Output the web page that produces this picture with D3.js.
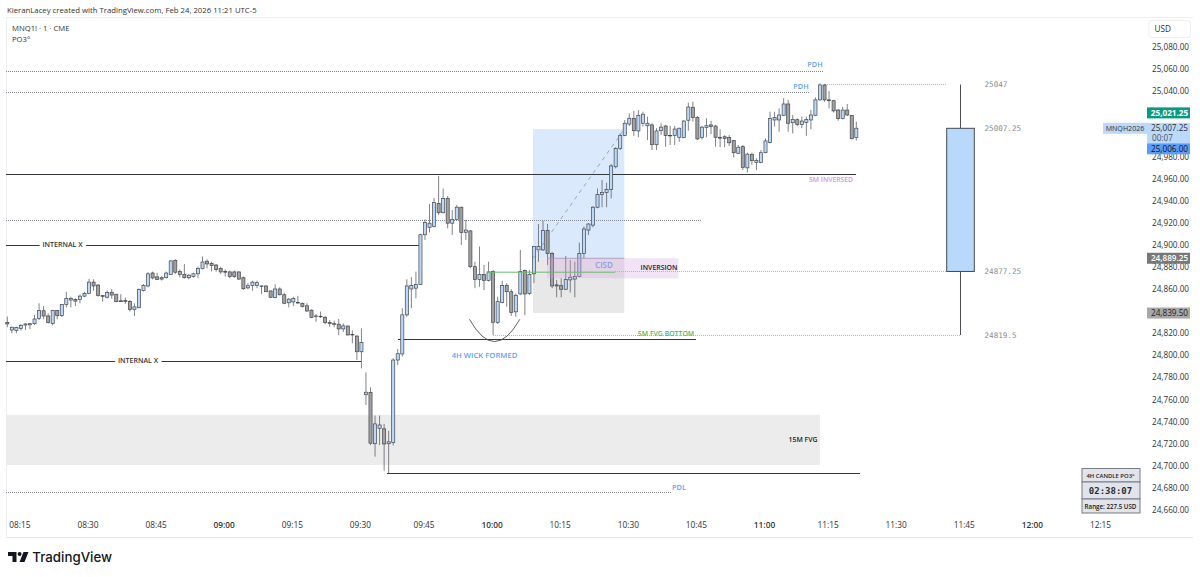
<!DOCTYPE html>
<html>
<head>
<meta charset="utf-8">
<title>MNQ1! 1m</title>
<script src="https://cdn.jsdelivr.net/npm/d3@7"></script>
<style>
  html, body { margin: 0; padding: 0; background: #fff; }
  svg { display: block; }
  text { font-family: "Open Sans", "Noto Sans", sans-serif; }
</style>
</head>
<body>
<div id="chart"></div>
<script>
// Bars, one minute each, starting just before 08:15
var barOpen = [24829.75,24823,24822.5,24824.5,24827.5,24827.75,24828.75,24833.5,24840.5,24835.75,24829,24840.75,24836.25,24846.25,24850.25,24850.75,24850.75,24853.75,24856.25,24866.5,24863.75,24854.25,24852.75,24857.25,24855.5,24849.5,24849.75,24849,24841.5,24843.25,24858.75,24863,24874.75,24871.25,24870.5,24870.5,24873.5,24886.25,24876.25,24873.5,24870.5,24871.5,24874,24878.75,24885.5,24883.5,24882,24878.75,24876,24875.75,24875.75,24875.75,24870.5,24861.25,
  24863.5,24863.5,24863,24863,24858.5,24852.5,24860.25,24855,24847.75,24848.5,24848,24847.25,24845,24841,24835.75,24835.5,24834.5,24829.75,24828.75,24828.25,24824,24826.5,24819,24817.5,24803.25,24764.25,24766.25,24719.75,24733.75,24733.25,24719.75,24720.75,24795.75,24801.25,24836.75,24860.25,24861,24864.25,24909.5,24916.25,24917,24938,
  24929.5,24942.5,24920,24923.5,24934.5,24911.75,24913,24880.5,24868.75,24873.5,24868,24876,24829.75,24848,24863.5,24857.75,24839.5,24855.75,24877,24856.25,24874,24895.75,24895.75,24913.5,24892.5,24864,24863.25,24860,24868.5,24869.25,24871.5,24892.5,24913.75,24918.25,24934.5,24946,24948,24950.75,24971.25,24987.75,24999.75,25010,25015.25,25003.75,
  25010.75,25008.5,25009.25,24991.25,25004,25008.25,24999.75,24999.5,24998,24997.75,25013.5,25025.25,25016,24997.75,25007,25009.25,25008.25,24998,24998.5,24997.75,24995,24983.5,24989.5,24970.25,24982.5,24975.25,24975.25,24984,24993.25,25013.75,25013.75,25018,25028.25,25011.25,25014,25009.75,25011.5,25013.75,25018,25032,25045.5,25032,25031.25,25022.75,25015,25022.75,25017.75,24997.75];
var barHigh = [24835.25,24826,24826,24828.5,24829,24829.5,24836.75,24847.25,24844.75,24838.25,24841.25,24841.25,24846.5,24857.75,24853.25,24851.75,24855.25,24857.5,24869.5,24869,24864.75,24854.75,24858.75,24860,24855.75,24855.5,24852.5,24850.25,24847.25,24860.75,24864.75,24875.5,24876,24875,24872,24876,24886.5,24887.25,24878,24883,24874,24875,24880.5,24889.75,24887.25,24885,24883,24880.5,24878,24877,24877,24876.25,24871.5,24865.5,
  24867.75,24867.75,24863.5,24863.5,24858.75,24864.5,24861.75,24857,24852,24853.25,24854,24848,24847.25,24841.75,24837.5,24839.75,24835.75,24832,24831.5,24833,24829,24827.5,24822.5,24818.25,24824.5,24784.5,24771,24745.25,24745.25,24737.75,24731.5,24797.25,24805.75,24842.75,24869,24871,24876,24910.25,24923.5,24937.5,24942.75,24963,
  24951.5,24944.75,24932,24936.5,24935,24923,24913.75,24885,24898.75,24882,24885,24877.5,24853.25,24867.75,24865.5,24860,24856.25,24895.75,24878,24877.5,24899.25,24919.25,24922.25,24919.25,24894,24868.5,24870,24890.25,24886.5,24885,24902.25,24917,24920,24935.5,24951.5,24959.25,24956.75,24973.75,24989,25001.5,25013.75,25019.75,25022,25022.75,
  25021.25,25016.75,25010.75,25006.25,25010.75,25009.25,25008.5,25008.25,25006.75,25013.75,25029.5,25030.25,25017.25,25008.25,25015.25,25013,25009.25,25005.25,25000,25000,24995.5,24991,24991,24984,24984,24979,24986.5,24997,25021.25,25021.25,25024.25,25033.5,25032,25018.25,25015.25,25016.75,25016.75,25022.75,25034.25,25047,25046.5,25040,25032,25023.5,25025.75,25028.25,25018.25,25012.25];
var barLow = [24825.5,24820,24820,24822.5,24823,24823.75,24827.5,24832,24832.75,24829,24827.25,24832.75,24835,24843.5,24843.5,24844.75,24847.25,24852.75,24855.75,24858.75,24853.25,24848.75,24851.75,24851.5,24848.25,24848.5,24846.75,24839.75,24835.75,24842.75,24858,24861.75,24869,24868.5,24868,24869.75,24873,24873.75,24870.75,24869.75,24869,24870.5,24870.25,24878,24879,24876.25,24876,24874,24871.5,24870,24870.25,24868.5,24859.5,24860,
  24858.75,24861,24855.75,24857.5,24852,24852,24854.5,24846.5,24843.5,24844.75,24847,24843.5,24839.5,24833.75,24830.5,24834,24828.25,24826,24825.5,24818.25,24821.25,24818,24811,24795.75,24788.25,24755,24718.5,24708,24718.5,24695.25,24692.75,24718.25,24791.25,24798.75,24835,24842.75,24851.75,24864,24904.75,24911.5,24916.25,24927.5,
  24929,24915.25,24909.25,24923,24900.25,24904.75,24879,24861,24862.25,24859.25,24867,24818.5,24828.5,24847.25,24844.25,24835.75,24835,24854.75,24836.5,24854.75,24865.5,24885,24894.75,24882,24861,24852.75,24852.75,24859.25,24857,24852.75,24871,24888,24909.25,24916.25,24933.5,24934.5,24934.5,24942.5,24969.75,24986.5,24999,25008.25,24999.25,24998,
  25007.75,24995.5,24986.5,24986.5,25000,24989.5,24991,24991,24994,24997,25004,25012.25,24995.5,24996,24998,25001,24989.5,24989,24989,24990,24979.75,24982.75,24968.25,24966,24973,24968.25,24974.5,24983.5,24992.5,25007.75,25003,25017.25,25003,25001.5,25008.25,25006.25,24999.25,25005.25,25017.25,25031.25,25030.25,25024.25,25020.5,25013,25014.25,25017.25,24996,24995];
var barClose = [24828.5,24825.5,24825.25,24827.25,24828.5,24828.75,24833,24840.75,24835.75,24829.75,24840.75,24836,24846.25,24851.75,24851.75,24849.25,24853.75,24856.25,24866.5,24863,24854.5,24853.5,24857,24854.75,24848.75,24848.75,24849,24841.5,24844,24859.75,24863.5,24874,24870.25,24869,24869.25,24874.75,24885.75,24875.5,24873.5,24870.5,24872.75,24874,24878.75,24884.75,24883,24881.5,24878,24875.75,24875.5,24871.5,24871.5,24869.25,24860.5,24863.25,
  24866.5,24866,24862.5,24857.75,24852.75,24860.25,24855,24847.25,24851,24851.75,24847.5,24844.25,24840.25,24834.5,24835.25,24835,24829.75,24829,24828.25,24824,24826.75,24818.5,24818.5,24803.25,24811.75,24766.5,24720.25,24737.75,24736.75,24719.5,24721.5,24795.75,24801.5,24836.75,24863,24863.5,24864.25,24909.5,24920.75,24920,24938.75,24929.5,
  24942.5,24920,24923.5,24934.5,24911.5,24913.75,24880.5,24869,24873.5,24868,24875.75,24830,24848.75,24863.5,24857.75,24839,24854.5,24876.25,24855.75,24873.5,24898.75,24898.75,24913.5,24892.5,24863,24863,24860,24869,24871,24871.5,24892.5,24914.75,24919.25,24934.5,24946,24948,24950.75,24972,24987.75,24999.75,25010.75,25015.25,25004,25017.75,
  25019,25010.75,24991.25,25003.75,25007.25,24999.5,24999.25,25005.5,25006.25,25012.75,25025.5,25016,24996.5,25007.25,25008.5,25007.75,24998,24997.25,24997,24993,24984,24989,24970.75,24982.75,24976.75,24977,24984,24994.75,25015,25016,25018.25,25028.25,25010.75,25014.25,25009.75,25012.75,25014.25,25018.25,25032,25045.5,25032,25031.25,25022,25015,25022.75,25018.25,24996.75,25006.25];

var priceTicks = [25080,25060,25040,24980,24960,24940,24920,24900,24880,24860,24820,24800,24780,24760,24740,24720,24700,24680,24660];
var timeBars = [3,18,33,48,63,78,92,107,122,137,152,167,181,196,211,226,241];
var timeLabels = ["08:15","08:30","08:45","09:00","09:15","09:30","09:45","10:00","10:15","10:30","10:45","11:00","11:15","11:30","11:45","12:00","12:15"];
var boldTimes = ["09:00","10:00","11:00","12:00"];

// PO3 side candle, from its own labels
var po3Values = [25047,25007.25,24877.25,24819.5];
var po3Labels = ["25047","25007.25","24877.25","24819.5"];

// Price scale tags
var tagPrices = [25021.25,25007.25,24889.25,24839.5];

// Levels drawn on the chart: price, first bar, last bar
var solidLevels = [[24964.25,-0.3,187],[24899.5,-0.3,90.9],[24794.75,-0.3,77.9],[24814.25,86,151.7],[24692.25,83.6,187.8]];
var dottedLevels = [[25057.5,-0.3,179.7],[25039,-0.3,176.8],[24922.5,-0.3,153],[24675.5,-0.3,146.4]];
var po3Dotted = [[25047,180.1,207],[24877.25,133.9,207],[24819.5,107,209.9]];

var width = 1200, height = 577;

var svg = d3.select("#chart").append("svg").attr("width", width).attr("height", height);
svg.append("rect").attr("width", width).attr("height", height).attr("fill", "#fff");

var x = d3.scaleLinear().domain([0, 187]).range([7.3, 856.3]);
var y = d3.scaleLinear().domain([25080, 24660]).range([47, 509.5]);
// the labelled prices sit a touch lower than the axis text
function yTag(p) { return y(p) + 1.2; }

function addText(str, px, py, size, color, anchor, weight, family) {
    var t = svg.append("text")
        .attr("x", px).attr("y", py)
        .attr("dy", "0.35em")
        .attr("font-size", size)
        .attr("fill", color)
        .attr("text-anchor", anchor || "start")
        .text(str);
    if (weight) t.attr("font-weight", weight);
    if (family) t.style("font-family", family);
    return t;
}

function drawFrame() {
    svg.append("line").attr("x1", 6).attr("x2", 1193).attr("y1", 17.5).attr("y2", 17.5).attr("stroke", "#eceef1");
    svg.append("line").attr("x1", 6).attr("x2", 1193).attr("y1", 537.5).attr("y2", 537.5).attr("stroke", "#e6e8eb");
    svg.append("line").attr("x1", 6.5).attr("x2", 6.5).attr("y1", 17).attr("y2", 537).attr("stroke", "#eceef1");

    addText("KieranLacey created with TradingView.com, Feb 24, 2026 11:21 UTC-5", 7, 10, 7.75, "#333");
    addText("MNQ1! · 1 · CME", 12, 28, 7.7, "#333");
    addText("PO3°", 12, 39, 7.7, "#333");
}

function drawZones() {
    // 15M FVG
    zone(-0.3, 179, 24747, 24701.5, "#ececec");
    // position tool, profit part then stop part
    zone(115.8, 135.9, 25006.5, 24889.25, "#dbe9fd");
    zone(115.8, 135.9, 24889.25, 24839.5, "#e8e8e8");
}

function zone(b0, b1, top, bottom, fill) {
    svg.append("rect")
        .attr("x", x(b0)).attr("width", x(b1) - x(b0))
        .attr("y", yTag(top)).attr("height", yTag(bottom) - yTag(top))
        .attr("fill", fill);
}

function drawLevels() {
    svg.selectAll(".solid").data(solidLevels).join("line")
        .attr("class", "solid")
        .attr("x1", d => x(d[1])).attr("x2", d => x(d[2]))
        .attr("y1", d => y(d[0])).attr("y2", d => y(d[0]))
        .attr("stroke", "#33363c").attr("stroke-width", 1)
        .attr("shape-rendering", "crispEdges");

    svg.selectAll(".dotted").data(dottedLevels).join("line")
        .attr("class", "dotted")
        .attr("x1", d => x(d[1])).attr("x2", d => x(d[2]))
        .attr("y1", d => y(d[0])).attr("y2", d => y(d[0]))
        .attr("stroke", "#85888e").attr("stroke-width", 1).attr("stroke-dasharray", "1 1")
        .attr("shape-rendering", "crispEdges");

    svg.selectAll(".po3dot").data(po3Dotted).join("line")
        .attr("class", "po3dot")
        .attr("x1", d => x(d[1])).attr("x2", d => x(d[2]))
        .attr("y1", d => yTag(d[0])).attr("y2", d => yTag(d[0]))
        .attr("stroke", "#b4b6ba").attr("stroke-width", 1).attr("stroke-dasharray", "1 1")
        .attr("shape-rendering", "crispEdges");
}

function drawCandles() {
    var bars = d3.range(barOpen.length);
    var g = svg.append("g");
    var bodyW = 3.1;

    g.selectAll(".wick").data(bars).join("line")
        .attr("class", "wick")
        .attr("x1", i => x(i)).attr("x2", i => x(i))
        .attr("y1", i => y(barHigh[i])).attr("y2", i => y(barLow[i]))
        .attr("stroke", "#55585e").attr("stroke-width", 0.75);

    g.selectAll(".body").data(bars).join("rect")
        .attr("class", "body")
        .attr("x", i => x(i) - bodyW / 2)
        .attr("width", bodyW)
        .attr("y", i => y(Math.max(barOpen[i], barClose[i])))
        .attr("height", i => Math.abs(y(barOpen[i]) - y(barClose[i])))
        .attr("fill", i => barClose[i] >= barOpen[i] ? "#b9d8fa" : "#a2a2a2")
        .attr("stroke", "#43464c").attr("stroke-width", 0.7);
}

function drawDrawings() {
    // dashed path of the position tool
    svg.append("line")
        .attr("x1", x(115.8)).attr("y1", yTag(24889.25))
        .attr("x2", x(135.9)).attr("y2", yTag(25006.5))
        .attr("stroke", "#9a9da3").attr("stroke-width", 0.9).attr("stroke-dasharray", "4 4");

    // inversion box
    svg.append("rect")
        .attr("x", x(118.9)).attr("width", x(147.8) - x(118.9))
        .attr("y", yTag(24889.25)).attr("height", yTag(24871) - yTag(24889.25))
        .attr("fill", "#cf9fe0").attr("fill-opacity", 0.28);
    svg.append("line")
        .attr("x1", x(118.9)).attr("x2", x(135.9))
        .attr("y1", yTag(24889.25)).attr("y2", yTag(24889.25))
        .attr("stroke", "#a68fb8").attr("stroke-width", 0.8);

    // CISD line
    svg.append("line")
        .attr("x1", x(105.7)).attr("x2", x(133.9))
        .attr("y1", y(24875.5)).attr("y2", y(24875.5))
        .attr("stroke", "#69bb6c").attr("stroke-width", 1);

    // 4H wick arc
    var arc = d3.path();
    arc.moveTo(x(101.8), y(24832.75));
    arc.quadraticCurveTo(x(107.3), y(24792.25), x(112.9), y(24832.75));
    svg.append("path").attr("d", arc.toString())
        .attr("fill", "none").attr("stroke", "#4c4f55").attr("stroke-width", 0.9);

    addText("PDH", 815, 64, 7.3, "#5f9ff2", "middle", 600);
    addText("PDH", 801, 86, 7.3, "#5f9ff2", "middle", 600);
    addText("PDL", 679, 487, 7.3, "#5f9ff2", "middle", 600);
    addText("5M INVERSED", 831, 180, 6.8, "#d197e4", "middle", 600);
    addText("4H WICK FORMED", 484.5, 355, 7.7, "#5f9ff2", "middle", 600);
    addText("5M FVG BOTTOM", 666, 333.5, 6.9, "#55b45a", "middle", 600);
    addText("CISD", 604, 265, 8, "#8f9be8", "middle", 600);
    addText("INVERSION", 659, 267.5, 6.9, "#222", "middle", 600);
    addText("15M FVG", 803, 440, 6.9, "#222", "middle", 600);

    addText("INTERNAL X", 62.5, 245, 7, "#333", "middle", 600)
        .attr("stroke", "#fff").attr("stroke-width", 7).style("paint-order", "stroke");
    addText("INTERNAL X", 138, 361, 7, "#333", "middle", 600)
        .attr("stroke", "#fff").attr("stroke-width", 7).style("paint-order", "stroke");
}

function drawPo3() {
    var cx = x(209.95);
    svg.append("line")
        .attr("x1", cx).attr("x2", cx)
        .attr("y1", yTag(po3Values[0])).attr("y2", yTag(po3Values[3]))
        .attr("stroke", "#4a4d53").attr("stroke-width", 1);
    svg.append("rect")
        .attr("x", cx - 13.8).attr("width", 27.6)
        .attr("y", yTag(po3Values[1])).attr("height", yTag(po3Values[2]) - yTag(po3Values[1]))
        .attr("fill", "#b9d9fb").attr("stroke", "#454950").attr("stroke-width", 1);

    po3Values.forEach((v, i) => {
        addText(po3Labels[i], 984.5, yTag(v), 7.6, "#8a8c90", "start", null, "'DejaVu Sans Mono', monospace");
    });
}

function drawAxes() {
    var right = d3.axisRight(y).tickValues(priceTicks).tickSize(0).tickPadding(0)
        .tickFormat(d3.format(",.2f"));
    var gr = svg.append("g").attr("transform", "translate(1152,0)").call(right);
    gr.select(".domain").remove();
    gr.selectAll("text").attr("font-size", 8.2).attr("fill", "#2f3136").style("font-family", "'Open Sans', sans-serif");

    var bottom = d3.axisBottom(x).tickValues(timeBars).tickSize(0).tickPadding(0)
        .tickFormat((d, i) => timeLabels[i]);
    var gb = svg.append("g").attr("transform", "translate(-1.5,522.5)").call(bottom);
    gb.select(".domain").remove();
    gb.selectAll("text")
        .attr("font-size", 8.3)
        .attr("fill", "#2f3136")
        .attr("font-weight", (d, i) => boldTimes.indexOf(timeLabels[i]) >= 0 ? 600 : 400)
        .style("font-family", "'Open Sans', sans-serif");

    // USD button
    svg.append("rect").attr("x", 1149).attr("y", 20.5).attr("width", 41.5).attr("height", 17).attr("rx", 3)
        .attr("fill", "#fff").attr("stroke", "#eceef1");
    addText("USD", 1154.5, 29, 8.2, "#2f3136");
}

function tag(px, w, top, h, fill) {
    svg.append("rect").attr("x", px).attr("y", top).attr("width", w).attr("height", h).attr("fill", fill);
}

function drawTags() {
    var fmt = d3.format(",.2f");
    var tx = 1169.5;

    var yGreen = yTag(tagPrices[0]);
    tag(1147, 43, yGreen - 5.5, 11, "#089981");
    addText(fmt(tagPrices[0]), tx, yGreen, 8.2, "#fff", "middle", 700);

    var yLast = yTag(tagPrices[1]);
    tag(1103, 44, yLast - 5.5, 11, "#bbd9fb");
    addText("MNQH2026", 1125, yLast, 7.1, "#2f3136", "middle");
    tag(1147, 43, yLast - 5.5, 20.5, "#bbd9fb");
    addText(fmt(tagPrices[1]), tx, yLast, 8.2, "#2f3136", "middle");
    addText("00:07", 1152, yLast + 10, 8.2, "#4e5158", "start");

    tag(1147, 43, yLast + 15, 11, "#5b9cf6");
    addText("25,006.00", tx, yLast + 20.5, 8.2, "#10131a", "middle");

    var yEntry = yTag(tagPrices[2]);
    tag(1147, 43, yEntry - 5.5, 11, "#787878");
    addText(fmt(tagPrices[2]), tx, yEntry, 8.2, "#fff", "middle", 600);

    var yStop = yTag(tagPrices[3]);
    tag(1147, 43, yStop - 5.5, 11, "#a8a8a8");
    addText(fmt(tagPrices[3]), tx, yStop, 8.2, "#1f2024", "middle");
}

function drawTimerBox() {
    var rows = [[468.5, 13.5], [482, 17], [499, 14]];
    rows.forEach(r => {
        svg.append("rect").attr("x", 1082).attr("y", r[0]).attr("width", 58).attr("height", r[1])
            .attr("fill", "#e1e4ea").attr("stroke", "#767b87").attr("stroke-width", 1);
    });
    addText("4H CANDLE PO3°", 1110.5, 475.5, 5.9, "#222", "middle", 600);
    addText("02:38:07", 1110.5, 491, 9, "#2a2c31", "middle", 600, "'DejaVu Sans Mono', monospace");
    addText("Range: 227.5 USD", 1110.5, 506.5, 6.2, "#222", "middle", 600);
}

function drawLogo() {
    // TradingView mark
    svg.append("path").attr("fill", "#131722")
        .attr("d", "M8 552h8.5v10h-4v-6H8z M19.5 562L23.5 552h5l-4 10z");
    svg.append("circle").attr("cx", 19.6).attr("cy", 554).attr("r", 2).attr("fill", "#131722");
    addText("TradingView", 32.3, 557, 13.3, "#131722", "start", 500, "Inter, sans-serif");
}

// Initialize chart
drawFrame();
drawZones();
drawLevels();
drawCandles();
drawDrawings();
drawPo3();
drawAxes();
drawTags();
drawTimerBox();
drawLogo();
</script>
</body>
</html>
